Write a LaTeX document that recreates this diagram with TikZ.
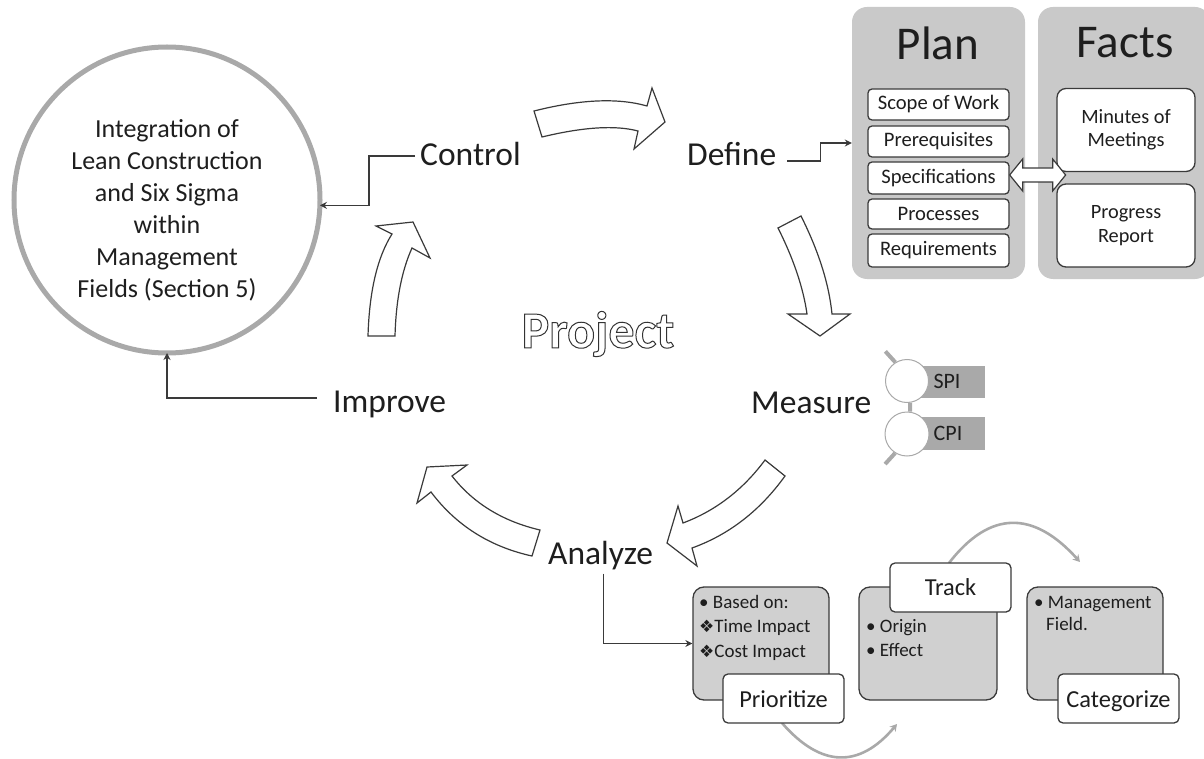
\documentclass[tikz,border=0pt]{standalone}
\usepackage{fontspec}
\setmainfont{Carlito}
\newfontfamily\symbfont{DejaVu Sans}
\usetikzlibrary{arrows.meta, calc}
\definecolor{panelgray}{HTML}{C9C9C9}
\definecolor{boxgray}{HTML}{D0D0D0}
\definecolor{ringgray}{HTML}{A9A9A9}
\definecolor{inkgray}{HTML}{3A3A3A}
\definecolor{txtgray}{HTML}{1E1E1E}
\tikzset{
  phase/.style = {text = txtgray, font = \fontsize{33.5}{33.5}\selectfont, inner sep = 0pt},
  title/.style = {text = txtgray, font = \fontsize{47}{47}\selectfont, inner sep = 0pt},
  panel/.style = {fill = panelgray, rounded corners = 15pt, inner sep = 0pt},
  item/.style = {draw = inkgray, fill = white, line width = 1.3pt, rounded corners = 4pt, inner sep = 0pt, minimum width = 141pt, text = txtgray, font = \fontsize{20.6}{20.6}\selectfont},
  fact/.style = {item, rounded corners = 9pt, minimum width = 138pt, minimum height = 83pt, align = center, font = \fontsize{20.3}{23.5}\selectfont},
  card/.style = {draw = inkgray, fill = boxgray, line width = 1.3pt, rounded corners = 11pt, inner sep = 0pt, minimum width = 136pt, minimum height = 113pt},
  tag/.style = {item, rounded corners = 5pt, minimum width = 121pt, minimum height = 49pt, text height = 19pt, text depth = 2pt, font = \fontsize{24.4}{24.4}\selectfont},
  note/.style = {text = txtgray, inner sep = 0pt, align = left, font = \fontsize{19}{24.5}\selectfont},
  link/.style = {draw = inkgray, line width = 1.2pt, -{Stealth[length = 7pt, width = 7pt]}},
  flow/.style = {draw = inkgray, fill = white, line width = 1.2pt, miter limit = 10},
  sweep/.style = {draw = ringgray, line width = 2.6pt, -{Stealth[length = 7pt, width = 8pt]}},
  dial/.style = {circle, draw = ringgray, fill = white, line width = 1pt, inner sep = 0pt, minimum size = 43pt},
  band/.style = {fill = ringgray, inner sep = 0pt, minimum width = 78pt, minimum height = 32pt},
  tick/.style = {draw = ringgray, line width = 4pt},
  small/.style = {inner sep = 0pt, text = txtgray, font = \fontsize{22}{22}\selectfont}
}
\begin{document}
\begin{tikzpicture}[x = 1pt, y = -1pt]
\useasboundingbox (0,0) rectangle (1204,759);
\node[circle, draw = ringgray, line width = 5pt, outer sep = 0pt, minimum size = 306pt, inner sep = 0pt] (hub) at (167,200) {};
\node[align = center, text = txtgray, inner sep = 0pt, font = \fontsize{26}{32}\selectfont] (hubtext) at (167,210) {Integration of\\Lean Construction\\and Six Sigma\\within\\Management\\Fields (Section 5)};

\node[phase, anchor = west] (control) at (420,154) {Control};
\node[phase, anchor = west] (define) at (687,154) {Define};
\node[phase, anchor = west] (measure) at (751,403) {Measure};
\node[phase, anchor = west] (analyze) at (548,556) {Analyze};
\node[phase, anchor = west] (improve) at (333,404) {Improve};
\node[inner sep = 0pt, font = \bfseries\fontsize{52}{52}\selectfont] (project) at (598,334) {\special{pdf:code q 1 Tr 1 w 0.2 G}Project\special{pdf:code Q}};

\draw[flow] (534,111) .. controls (580.3,99.3) and (618,97.7) .. (647,106) -- (652,88) -- (665,122) -- (634,149) -- (638,131) .. controls (615.3,125) and (583.3,127) .. (542,137) -- cycle;
\draw[flow] (801,216) .. controls (818.7,251.3) and (829,284) .. (832,314) -- (850,314) -- (820,336) -- (788,314) -- (807,314) .. controls (803.3,288) and (793.7,259.3) .. (778,228) -- cycle;
\draw[flow] (785,476) .. controls (760,510.7) and (729,534.7) .. (692,548) -- (697,566) -- (667,543) -- (678,506) -- (683,523) .. controls (715.7,510.7) and (743,489.7) .. (765,460) -- cycle;
\draw[flow] (532,556) .. controls (489.7,546.7) and (456,525.3) .. (431,492) -- (417,503) -- (427,467) -- (467,465) -- (452,476) .. controls (473.3,503.3) and (502.7,521.3) .. (540,530) -- cycle;
\draw[flow] (368,336) .. controls (369.3,291.3) and (377.3,257.3) .. (392,234) -- (376,226) -- (413,222) -- (430,258) -- (412,248) .. controls (401.7,270.7) and (396,300) .. (395,336) -- cycle;

\node[panel, minimum width = 173pt, minimum height = 272pt] (plan) at (938.5,143) {};
\node[panel, minimum width = 172pt, minimum height = 272pt] (facts) at (1124,143) {};
\node[title] (plantitle) at (938,43) {Plan};
\node[title] (factstitle) at (1125,43) {Facts};
\node[item, minimum height = 31pt] (scope) at (938.5,104.5) {Scope of Work};
\node[item, minimum height = 31pt] (prereq) at (938.5,141.5) {Prerequisites};
\node[item, minimum height = 32pt] (spec) at (938.5,178) {Specifications};
\node[item, minimum height = 30pt] (process) at (938.5,214) {Processes};
\node[item, minimum height = 33pt] (require) at (938.5,250.5) {Requirements};
\node[fact] (minutes) at (1126,130) {Minutes of\\Meetings};
\node[fact] (progress) at (1126,225.5) {Progress\\Report};
\draw[flow] ($(spec.east)+(0,-3)$) -- ++(13,-16) -- ++(0,9) -- ++(30,0) -- ++(0,-9) -- ++(13,16) -- ++(-13,16) -- ++(0,-9) -- ++(-30,0) -- ++(0,9) -- cycle;

\node[band] (spiband) at (946,382) {};
\node[band, minimum height = 33pt] (cpiband) at (946,433.5) {};
\node[dial] (spi) at (907,381) {};
\node[dial, minimum size = 44pt] (cpi) at (907,434) {};
\draw[tick] (spi.122) -- ++(-10,-11);
\draw[tick] (spi.-82) -- (cpi.82);
\draw[tick] (cpi.-122) -- ++(-10,11);
\node[small] (spilabel) at (947,381) {SPI};
\node[small] (cpilabel) at (948,433) {CPI};

\node[card] (primebox) at (761,643.5) {};
\node[card, minimum width = 138pt] (trackbox) at (928,643.5) {};
\node[card] (fieldbox) at (1095,643.5) {};
\coordinate (sweepa) at (782,723);
\coordinate (sweepb) at (897,724);
\coordinate (sweepc) at (949,563);
\coordinate (sweepd) at (1080,562);
\draw[sweep] (sweepa) .. controls (821,767.7) and (859.3,768.7) .. (sweepb);
\draw[sweep] (sweepc) .. controls (989.7,510.3) and (1033.3,510) .. (sweepd);
\node[tag] (prioritize) at (783.5,698.5) {Prioritize};
\node[tag, text height = 18pt, text depth = 3pt] (track) at (950.5,587.5) {Track};
\node[tag] (categorize) at (1118.5,698.5) {Categorize};
\node[note, anchor = north west] (primenote) at (699,595) {• Based on:\\{\symbfont\fontsize{17}{17}\selectfont ❖}Time Impact\\{\symbfont\fontsize{17}{17}\selectfont ❖}Cost Impact};
\node[note, anchor = north west] (tracknote) at (866,619) {• Origin\\• Effect};
\node[note, anchor = north west] (fieldnote) at (1034,596) {• Management\\[-2.5pt]\hspace*{12pt}Field.};

\draw[link] (control.west) ++(-5,2) -- ++(-46,0) |- (hub.358);
\draw[link] (improve.west) ++(-16,-6) -| (hub.south);
\draw[link] (define.east) ++(11,7) -- ++(33,0) |- (plan.west);
\draw[link] (analyze.south) ++(3,3) |- (primebox.west);
\end{tikzpicture}
\end{document}
